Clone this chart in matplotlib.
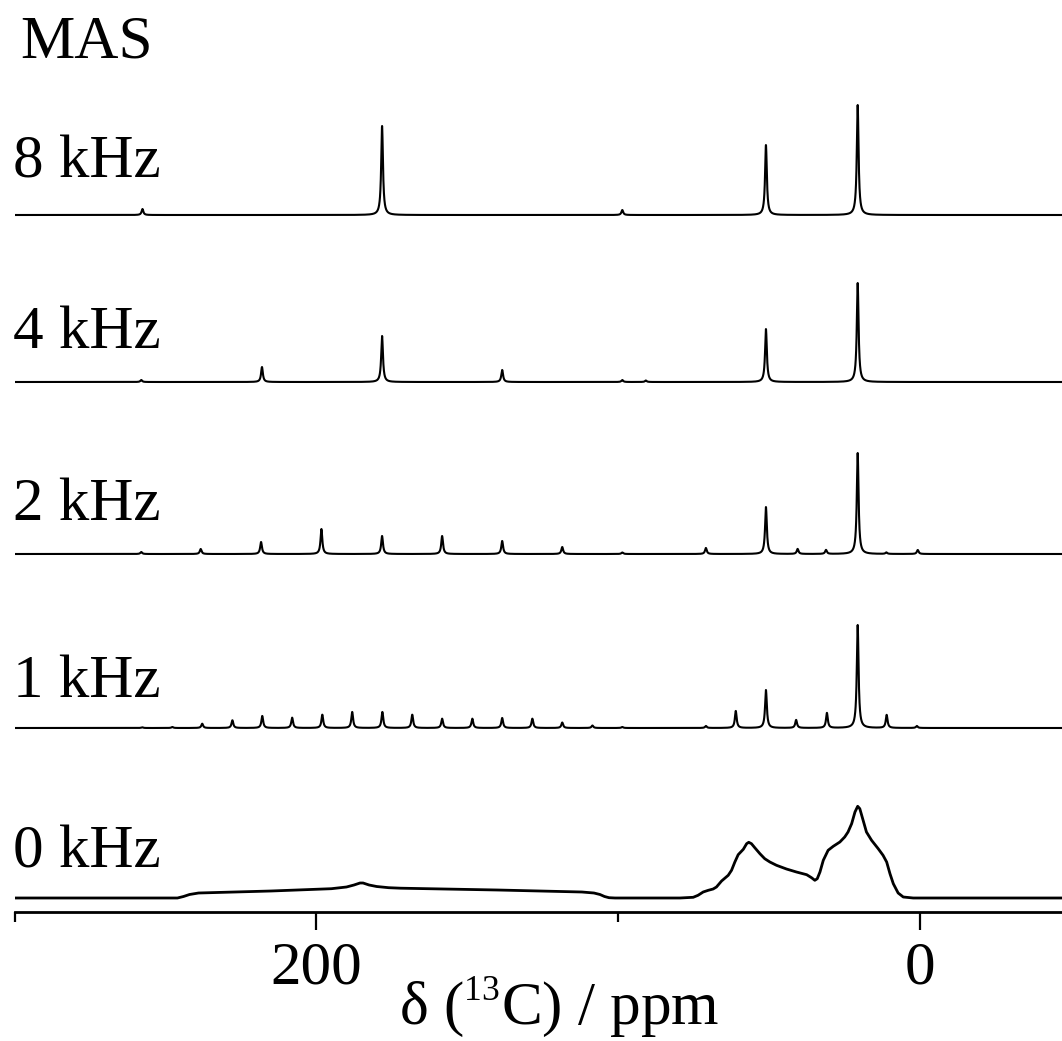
import numpy as np
import matplotlib.pyplot as plt
import matplotlib._mathtext as mathtext_internal

plt.rcParams['font.family'] = 'Liberation Serif'
plt.rcParams['mathtext.fontset'] = 'custom'
plt.rcParams['mathtext.rm'] = 'Liberation Serif'
# smaller superscript for the isotope label
mathtext_internal.SHRINK_FACTOR = 0.58

# MAS spectra: peak positions (ppm) and heights, centreband + spinning sidebands
ppm_8k = [257.6, 178.2, 98.6, 51.0, 20.6]
amp_8k = [6, 89, 5, 70, 110]

ppm_4k = [258.0, 218.0, 178.2, 138.4, 98.6, 90.8, 51.0, 20.6]
amp_4k = [2, 15, 46, 12, 2, 1.5, 53, 99]

ppm_2k = [258.0, 238.3, 218.3, 198.3, 178.2, 158.3, 138.4, 118.5, 98.6,
          70.9, 51.0, 40.5, 31.1, 20.6, 11.1, 0.7]
amp_2k = [2, 5, 12, 25, 18, 18, 13, 7, 1.5,
          6, 47, 5, 4, 101, 1.5, 4]

ppm_1k = [257.7, 247.7, 237.8, 227.8, 217.9, 208.0, 198.0, 188.1, 178.1,
          168.2, 158.3, 148.3, 138.4, 128.4, 118.5, 108.5, 98.6,
          70.9, 61.0, 51.0, 41.0, 30.8, 20.6, 11.0, 1.0]
amp_1k = [0.7, 1, 4.3, 7.7, 12, 10.3, 13.3, 16, 16,
          13.3, 9.3, 9.3, 10, 9.3, 5.5, 2.5, 1,
          2, 17, 38, 8, 15, 103, 13, 2]

# static (0 kHz) powder pattern, traced outline
ppm_0k = [300, 246.0, 244.0, 242.0, 239.0, 215.0, 195.0, 190.0, 187.5, 185.5,
          184.5, 182.5, 180.0, 176.0, 172.0, 140.0, 112.0, 108.0, 106.0, 104.5,
          103.0, 101.0,
          79.5, 75.1, 73.5, 71.8, 70.1, 68.5, 67.4, 65.7, 63.5, 62.4,
          61.3, 60.2, 58.5, 57.4, 56.7, 55.8, 54.7, 53.0, 51.4, 49.7,
          47.5, 44.2, 40.9, 37.5, 35.9, 34.8, 34.0, 33.1, 32.0, 30.4,
          28.7, 26.5, 24.9, 23.8, 22.6, 21.5, 20.6, 19.9, 18.8, 17.7,
          16.0, 13.8, 12.2, 11.0, 9.9, 8.8, 7.2, 5.5, 2.2, -47.1]
amp_0k = [0, 0, 1.5, 3.5, 5, 7, 9.3, 11, 13, 15,
          15, 13, 11.5, 10.3, 9.8, 8, 6, 5, 3.5, 1.5,
          0.3, 0,
          0, 0.7, 2.7, 6, 7.7, 9, 11, 17, 22.7, 27.7,
          36, 43.3, 48.7, 54.3, 55.7, 54.3, 50.3, 44.3, 39.3, 36,
          32.7, 29, 26, 23.3, 20.3, 17.7, 19.3, 26, 37.7, 47.7,
          51.7, 56, 61, 66, 74.3, 86, 91.7, 89.3, 77.7, 66,
          57.7, 49.3, 42.7, 36, 24.3, 14.3, 5, 1, 0, 0]

labels = ['8 kHz', '4 kHz', '2 kHz', '1 kHz', '0 kHz']
offsets = [697, 530, 358, 184, 14]
label_y = [177, 348, 520, 697, 868]


def lorentz(x, centers, heights, hwhm=0.35):
    y = np.zeros_like(x)
    for c, h in zip(centers, heights):
        y += h * hwhm**2 / ((x - c)**2 + hwhm**2)
    return y


x = np.linspace(300, -47.1, 8000)

fig = plt.figure(figsize=(10.62, 10.41), dpi=100)
ax = fig.add_axes([14.5 / 1062, 129 / 1041, 1 - 14.5 / 1062, 912 / 1041])

spectra = [(ppm_8k, amp_8k), (ppm_4k, amp_4k), (ppm_2k, amp_2k), (ppm_1k, amp_1k)]
for (pos, amp), off in zip(spectra, offsets[:4]):
    ax.plot(x, lorentz(x, pos, amp) + off, color='black', lw=1.5)
ax.plot(ppm_0k, np.array(amp_0k) + offsets[4], color='black', lw=2.0,
        solid_joinstyle='round')

ax.set_xlim(300, -47.1)
ax.set_ylim(0, 912)
for s in ['top', 'left', 'right']:
    ax.spines[s].set_visible(False)
ax.spines['bottom'].set_linewidth(2.0)
ax.set_yticks([])
ax.set_xticks([200, 0])
ax.set_xticklabels(['200', '0'])
ax.set_xticks([300, 100], minor=True)
ax.tick_params(axis='x', which='major', direction='out', length=13, width=1.6,
               labelsize=44, pad=8)
ax.tick_params(axis='x', which='minor', direction='out', length=7.5, width=1.6)

fig.text(20 / 1062, 1 - 58 / 1041, 'MAS', fontsize=44, va='baseline', ha='left')
for lab, ly in zip(labels, label_y):
    fig.text(13 / 1062, 1 - ly / 1041, lab, fontsize=44, va='baseline', ha='left')

fig.text(559 / 1062, 1 - 1024 / 1041, r'δ ($^{13}$C) / ppm', fontsize=44,
         va='baseline', ha='center')

fig.savefig('out.png', dpi=100)
